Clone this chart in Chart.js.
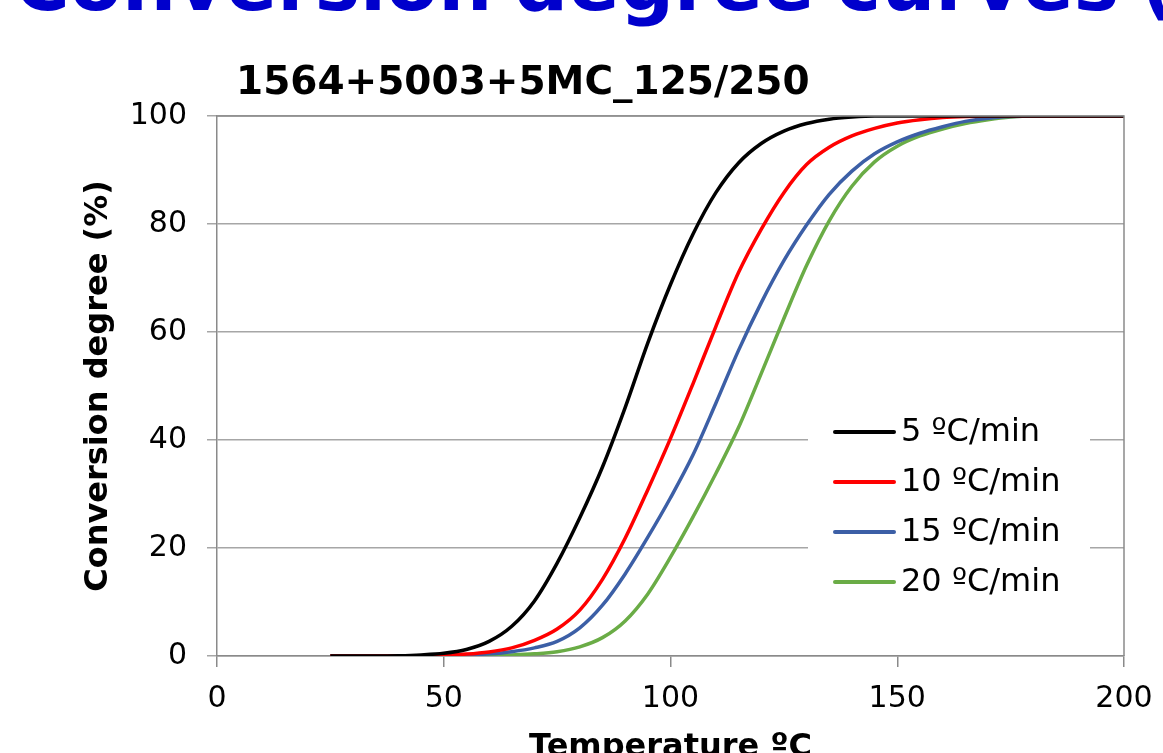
<!DOCTYPE html>
<html>
<head>
<meta charset="utf-8">
<script src="https://cdn.jsdelivr.net/npm/chart.js@4.4.1/dist/chart.umd.min.js"></script>
<style>
  html, body { margin: 0; padding: 0; background: #fff; overflow: hidden; width: 1163px; height: 753px; }
  #slideTitle { position: absolute; left: 14px; top: -54px; font: bold 76px 'DejaVu Sans'; line-height: 1; color: #0000cc; white-space: nowrap; word-spacing: -5px; }
  #chartTitle { position: absolute; left: 236px; top: 61px; font: bold 39px 'DejaVu Sans'; line-height: 1; color: #000; white-space: nowrap; }
  #wrap { position: absolute; left: 0; top: 0; }
</style>
</head>
<body>
<div id="wrap"><canvas id="curves" width="1163" height="771"></canvas></div>
<div id="slideTitle">Conversion degree curves (</div>
<div id="chartTitle">1564+5003+5MC_125/250</div>
<script>
// temperatures (ºC) and conversion degree (%)
const temps  = [25, 30, 35, 40, 45, 50, 55, 60, 65, 70, 75, 80, 85, 90, 95, 100, 105, 110, 115, 120,
                125, 130, 135, 140, 145, 150, 155, 160, 165, 170, 175, 180, 185, 190, 195, 200];
const rate5  = [0, 0, 0, 0.05, 0.2, 0.5, 1.2, 2.7, 5.5, 10.2, 17.2, 25.6, 35, 46, 58, 68.8, 78.2, 85.8, 91.3, 94.9,
                97.2, 98.6, 99.4, 99.8, 100, 100, 100, 100, 100, 100, 100, 100, 100, 100, 100, 100];
const rate10 = [0, 0, 0, 0, 0.05, 0.15, 0.35, 0.75, 1.5, 2.9, 5, 8.5, 14.2, 21.8, 30.8, 40.3, 50.5, 61, 71, 79,
                85.8, 91, 94.2, 96.3, 97.7, 98.7, 99.3, 99.7, 99.9, 100, 100, 100, 100, 100, 100, 100];
const rate15 = [0, 0, 0, 0, 0, 0.05, 0.2, 0.4, 0.8, 1.5, 2.7, 5.2, 9.4, 15.2, 22, 29.3, 37.3, 46.8, 56.6, 65.4,
                73.2, 79.8, 85.5, 89.8, 93, 95.2, 96.8, 98, 99, 99.6, 99.9, 100, 100, 100, 100, 100];
const rate20 = [0, 0, 0, 0, 0, 0, 0.03, 0.1, 0.2, 0.4, 0.8, 1.7, 3.4, 6.5, 11.5, 18.3, 25.8, 33.8, 42.3, 52.3,
                62.5, 72.3, 80.6, 87, 91.5, 94.4, 96.3, 97.6, 98.6, 99.3, 99.8, 100, 100, 100, 100, 100];
const seriesLabels = ['5 ºC/min', '10 ºC/min', '15 ºC/min', '20 ºC/min'];
const xTicks = [0, 50, 100, 150, 200];
const yTicks = [0, 20, 40, 60, 80, 100];

const colors = ['#000000', '#ff0000', '#3c5fa6', '#6aac46'];
const allSeries = [rate5, rate10, rate15, rate20];

const tickFont = { family: 'DejaVu Sans', size: 30 };
const axisTitleFont = { family: 'DejaVu Sans', size: 32, weight: 'bold' };

// legend drawn inside the plot with a white box over the gridlines
const legendBox = {
  id: 'legendBox',
  afterDatasetsDraw(chart) {
    const ctx = chart.ctx;
    const area = chart.chartArea;
    ctx.save();
    // plot frame (top and right)
    ctx.strokeStyle = '#8a8a8a';
    ctx.lineWidth = 1.5;
    ctx.beginPath();
    ctx.moveTo(area.left, area.top);
    ctx.lineTo(area.right, area.top);
    ctx.lineTo(area.right, area.bottom);
    ctx.stroke();

    ctx.fillStyle = '#ffffff';
    ctx.fillRect(808, 406, 282, 200);
    ctx.font = '32px "DejaVu Sans"';
    ctx.textBaseline = 'middle';
    chart.data.datasets.forEach((ds, i) => {
      const y = 432 + i * 50;
      ctx.strokeStyle = ds.borderColor;
      ctx.lineWidth = 4;
      ctx.lineCap = 'round';
      ctx.beginPath();
      ctx.moveTo(835, y);
      ctx.lineTo(894, y);
      ctx.stroke();
      ctx.fillStyle = '#000';
      ctx.fillText(ds.label, 901, y + 1);
    });
    ctx.restore();
  }
};

new Chart(document.getElementById('curves'), {
  type: 'line',
  data: {
    datasets: allSeries.map((vals, i) => ({
      label: seriesLabels[i],
      data: temps.map((t, j) => ({ x: t, y: vals[j] })),
      borderColor: colors[i],
      borderWidth: 3.5,
      pointRadius: 0,
      fill: false,
      cubicInterpolationMode: 'monotone'
    }))
  },
  options: {
    responsive: false,
    animation: false,
    layout: { padding: { left: 75, top: 116, right: 39, bottom: 0 } },
    plugins: { legend: { display: false }, title: { display: false }, tooltip: { enabled: false } },
    scales: {
      x: {
        type: 'linear',
        min: 0,
        max: 200,
        afterBuildTicks: (scale) => { scale.ticks = xTicks.map(v => ({ value: v })); },
        afterFit: (scale) => { scale.height = 115; scale.paddingLeft = 0; scale.paddingRight = 0; },
        ticks: { font: tickFont, color: '#000', padding: 14, maxRotation: 0 },
        grid: { drawOnChartArea: false, drawTicks: true, tickLength: 11, color: '#8a8a8a', lineWidth: 1.5 },
        border: { display: true, color: '#8a8a8a', width: 1.5 },
        title: { display: true, text: 'Temperature ºC', font: axisTitleFont, color: '#000', padding: { top: 4, bottom: 4 } }
      },
      y: {
        min: 0,
        max: 100,
        afterBuildTicks: (scale) => { scale.ticks = yTicks.map(v => ({ value: v })); },
        afterFit: (scale) => { scale.width = 142; scale.paddingTop = 0; scale.paddingBottom = 0; },
        ticks: { font: tickFont, color: '#000', padding: 20 },
        grid: { color: '#a6a6a6', lineWidth: 1.5, tickLength: 10 },
        border: { display: true, color: '#8a8a8a', width: 1.5 },
        title: { display: true, text: 'Conversion degree (%)', font: axisTitleFont, color: '#000', padding: { top: 4, bottom: 4 } }
      }
    }
  },
  plugins: [legendBox]
});
</script>
</body>
</html>
